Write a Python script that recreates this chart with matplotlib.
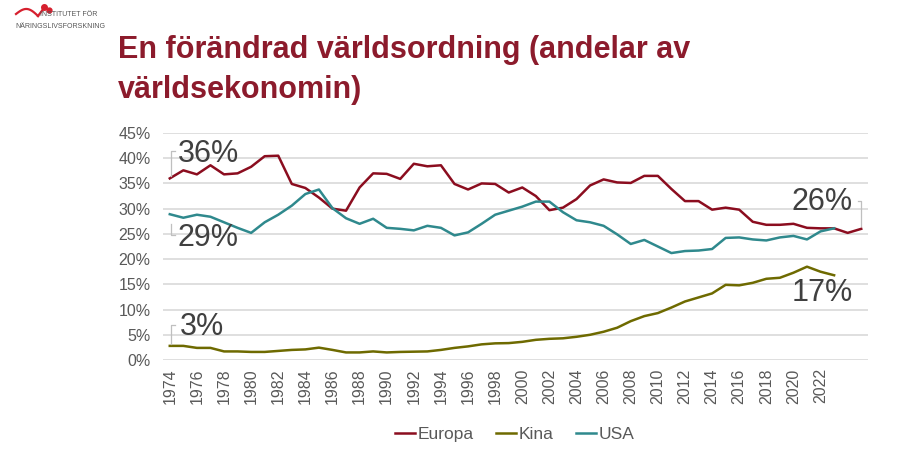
import matplotlib
matplotlib.use("Agg")
import matplotlib.pyplot as plt
import numpy as np
from matplotlib.lines import Line2D

plt.rcParams['font.family'] = ['Liberation Sans', 'DejaVu Sans']

years_europa = list(range(1974, 2026))
europa = [36.0, 37.6, 36.8, 38.6, 36.8, 37.0, 38.3, 40.4, 40.5, 34.9,
          34.1, 32.2, 30.0, 29.6, 34.2, 37.0, 36.9, 35.9, 38.9, 38.4,
          38.6, 34.9, 33.8, 35.0, 34.9, 33.2, 34.2, 32.5, 29.7, 30.2,
          31.9, 34.6, 35.8, 35.2, 35.1, 36.5, 36.5, 33.9, 31.5, 31.5,
          29.8, 30.2, 29.8, 27.4, 26.8, 26.8, 27.0, 26.2, 26.1, 26.1,
          25.2, 26.0]

years_other = list(range(1974, 2024))
kina = [2.8, 2.8, 2.4, 2.4, 1.7, 1.7, 1.6, 1.6, 1.8, 2.0,
        2.1, 2.45, 2.0, 1.5, 1.5, 1.7, 1.5, 1.6, 1.65, 1.7,
        2.0, 2.4, 2.7, 3.1, 3.3, 3.35, 3.6, 4.0, 4.2, 4.3,
        4.6, 5.0, 5.6, 6.4, 7.7, 8.7, 9.3, 10.4, 11.6, 12.4,
        13.2, 14.9, 14.8, 15.3, 16.1, 16.3, 17.3, 18.5, 17.5, 16.8]
usa = [28.9, 28.2, 28.8, 28.4, 27.3, 26.2, 25.2, 27.3, 28.8, 30.6,
       32.9, 33.8, 30.1, 28.1, 27.0, 28.0, 26.2, 26.0, 25.7, 26.6,
       26.2, 24.7, 25.3, 27.0, 28.8, 29.6, 30.4, 31.4, 31.4, 29.3,
       27.7, 27.3, 26.6, 24.9, 23.0, 23.8, 22.5, 21.2, 21.6, 21.7,
       22.0, 24.2, 24.3, 23.9, 23.7, 24.3, 24.6, 23.9, 25.5, 26.1]

series_names = ["Europa", "Kina", "USA"]
colors = {"Europa": "#8B0D1F", "Kina": "#6E6A00", "USA": "#2F898D"}
tick_years = list(range(1974, 2023, 2))
yticks = [0, 5, 10, 15, 20, 25, 30, 35, 40, 45]

fig = plt.figure(figsize=(9.11, 4.58), dpi=100)
ax = fig.add_axes([163/911, 1-360/458, (868-163)/911, (360-133)/458])

ax.plot(years_europa, europa, color=colors["Europa"], lw=1.8, label="Europa", solid_joinstyle='round')
ax.plot(years_other, kina, color=colors["Kina"], lw=1.8, label="Kina", solid_joinstyle='round')
ax.plot(years_other, usa, color=colors["USA"], lw=1.8, label="USA", solid_joinstyle='round')

ax.set_xlim(1973.5, 2025.5)
ax.set_ylim(0, 45)
ax.set_yticks(yticks)
ax.set_yticklabels([f"{v}%" for v in yticks])
ax.set_xticks(tick_years)
ax.set_xticklabels([str(y) for y in tick_years], rotation=90)
ax.tick_params(axis='both', length=0, labelsize=11.5, labelcolor='#595959')
ax.tick_params(axis='y', pad=9)
ax.tick_params(axis='x', pad=6)
ax.grid(axis='y', color='#D9D9D9', lw=1.2)
ax.set_axisbelow(True)
for s in ax.spines.values():
    s.set_visible(False)

# Data labels with brackets
lab_kw = dict(fontsize=22, color='#404040')
ax.text(1974.6, 40.8, "36%", va='center', ha='left', **lab_kw)
ax.text(1974.6, 24.1, "29%", va='center', ha='left', **lab_kw)
ax.text(2024.4, 31.3, "26%", va='center', ha='right', **lab_kw)
ax.text(2024.4, 13.2, "17%", va='center', ha='right', **lab_kw)
ax.text(1974.75, 6.6, "3%", va='center', ha='left', **lab_kw)

bk = dict(color='#BFBFBF', lw=0.9)
ax.plot([1974.4, 1974.1, 1974.1], [41.5, 41.5, 36.4], **bk)
ax.plot([1974.1, 1974.1, 1974.4], [27.0, 24.7, 24.7], **bk)
ax.plot([2024.75, 2025.0, 2025.0], [31.5, 31.5, 26.5], **bk)
ax.plot([1974.4, 1974.1, 1974.1], [7.0, 7.0, 3.2], **bk)

handles = [Line2D([0], [0], color=colors[n], lw=1.8) for n in series_names]
fig.legend(handles, series_names, loc='center', bbox_to_anchor=(515/911, 1-434/458),
           ncol=3, frameon=False, fontsize=12.5, handlelength=1.15, handletextpad=0.15,
           columnspacing=1.3, labelcolor='#595959')

# Title
fig.text(118/911, 1-50/458, "En förändrad världsordning (andelar av", fontsize=22,
         fontweight='bold', color='#8C1B2C', va='center', ha='left')
fig.text(118/911, 1-90/458, "världsekonomin)", fontsize=22,
         fontweight='bold', color='#8C1B2C', va='center', ha='left')

# Logo
fig.text(40/911, 1-14/458, "INSTITUTET FÖR", fontsize=5.0, color='#555555', va='center', ha='left')
fig.text(15/911, 1-27/458, "NÄRINGSLIVSFORSKNING", fontsize=5.0, color='#555555', va='center', ha='left')
t = np.linspace(0, 1, 30)
lx = (16 + 22 * t) / 911
ly = 1 - (14 - 6 * np.sin(np.pi * t) + 2 * t) / 458
fig.add_artist(Line2D(lx, ly, color='#D6202E', lw=1.6, transform=fig.transFigure))
fig.add_artist(Line2D([38/911, 44/911], [1-16/458, 1-8/458], color='#D6202E', lw=1.6,
                      transform=fig.transFigure))
fig.add_artist(Line2D([44/911], [1-7/458], marker='o', ms=4, color='#D6202E', lw=0,
                      transform=fig.transFigure))
fig.add_artist(Line2D([49/911], [1-10/458], marker='o', ms=3.5, color='#D6202E', lw=0,
                      transform=fig.transFigure))

fig.savefig("out.png", dpi=100, facecolor='white')
